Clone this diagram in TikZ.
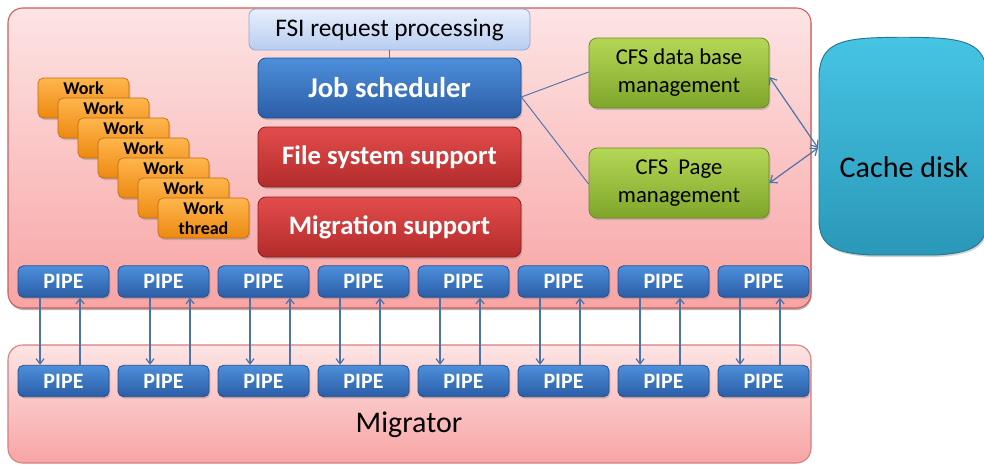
\documentclass[tikz,border=0pt]{standalone}
\usepackage{fontspec}
\setmainfont{Carlito}
\usetikzlibrary{arrows.meta,shadows}
\definecolor{contTop}{HTML}{FDE4E4}
\definecolor{contBot}{HTML}{F8A4A4}
\definecolor{contDraw}{HTML}{CC5E5E}
\definecolor{blueTop}{HTML}{4D8FDB}
\definecolor{blueBot}{HTML}{2B5DA6}
\definecolor{blueDraw}{HTML}{23508C}
\definecolor{redTop}{HTML}{E44C4C}
\definecolor{redBot}{HTML}{B22B2B}
\definecolor{redDraw}{HTML}{8C2020}
\definecolor{greenTop}{HTML}{B6D756}
\definecolor{greenBot}{HTML}{7EA52A}
\definecolor{greenDraw}{HTML}{6A8C22}
\definecolor{oraTop}{HTML}{FFB64C}
\definecolor{oraBot}{HTML}{EC8912}
\definecolor{oraDraw}{HTML}{BF6C0E}
\definecolor{fsiTop}{HTML}{E8EFFC}
\definecolor{fsiBot}{HTML}{B8CDF0}
\definecolor{fsiDraw}{HTML}{8EA8D5}
\definecolor{cacheTop}{HTML}{46C4E4}
\definecolor{cacheBot}{HTML}{2A98B8}
\definecolor{cacheDraw}{HTML}{25788F}
\definecolor{linec}{HTML}{4A74AA}
\tikzset{
  shad/.style={drop shadow={shadow xshift=1pt,shadow yshift=-1.5pt,opacity=0.35}},
  container/.style={rectangle,rounded corners=11pt,top color=contTop,bottom color=contBot,draw=contDraw,line width=0.8pt,inner sep=0pt},
  bluebox/.style={rectangle,rounded corners=6pt,top color=blueTop,bottom color=blueBot,draw=blueDraw,line width=0.6pt,text=white,shad,inner sep=0pt},
  redbox/.style={rectangle,rounded corners=6pt,top color=redTop,bottom color=redBot,draw=redDraw,line width=0.6pt,text=white,shad,inner sep=0pt,font=\fontsize{20}{24}\selectfont\bfseries,minimum width=197.25pt,minimum height=45pt},
  greenbox/.style={rectangle,rounded corners=6pt,top color=greenTop,bottom color=greenBot,draw=greenDraw,line width=0.6pt,text=black,shad,inner sep=0pt,align=center,font=\fontsize{17}{21}\selectfont,minimum width=135pt,minimum height=52.5pt},
  workbox/.style={rectangle,rounded corners=4pt,top color=oraTop,bottom color=oraBot,draw=oraDraw,line width=0.5pt,text=black,shad,inner sep=0pt,align=center,font=\fontsize{13.5}{15}\selectfont\bfseries,minimum width=68.25pt,minimum height=30pt},
  pipebox/.style={bluebox,rounded corners=4pt,font=\fontsize{16.5}{19}\selectfont\bfseries,minimum width=68.25pt,minimum height=23.5pt},
  conn/.style={draw=linec,line width=0.7pt},
  arr/.style={draw=linec,line width=0.9pt,-{Straight Barb[length=4pt,width=6pt]}},
  darr/.style={draw=linec,line width=0.9pt,{Straight Barb[length=4.5pt,width=7pt]}-{Straight Barb[length=4.5pt,width=7pt]}},
}
\begin{document}
\begin{tikzpicture}[x=0.75pt,y=-0.75pt]
\useasboundingbox (0,0) rectangle (984,465);
\fill[white] (0,0) rectangle (984,465);
% containers
\node[container,minimum width=602.25pt,minimum height=225pt,drop shadow={shadow xshift=0.5pt,shadow yshift=-1.5pt,opacity=0.6}] (upper) at (409.5,158) {};
\node[container,minimum width=602.25pt,minimum height=88.5pt,draw=contDraw!80] (lower) at (409.5,404) {};
\node[font=\fontsize{22.5}{26}\selectfont] (migr) at (409,425) {Migrator};
% FSI and central stack
\node[rectangle,rounded corners=5pt,top color=fsiTop,bottom color=fsiBot,draw=fsiDraw,line width=0.6pt,inner sep=0pt,minimum width=210.75pt,minimum height=30.75pt,font=\fontsize{19}{22}\selectfont] (fsi) at (389.5,29.5) {FSI request processing};
\node[bluebox,minimum width=197.25pt,minimum height=45pt,font=\fontsize{21.5}{26}\selectfont\bfseries] (js) at (389.5,88) {Job scheduler};
\node[redbox] (fs) at (389.5,157) {File system support};
\node[redbox] (ms) at (389.5,227) {Migration support};
\draw[conn] (fsi.south) -- (js.north);
% CFS boxes
\node[greenbox] (db) at (679,73) {CFS data base\\management};
\node[greenbox] (pg) at (679,183) {CFS~ Page\\management};
\coordinate (jsr) at ([yshift=-6.75pt]js.east);
\draw[conn] (jsr) -- ([yshift=0.75pt]db.west);
\draw[conn] (jsr) -- ([yshift=-0.75pt]pg.west);
% cache disk
\path[top color=cacheTop,bottom color=cacheBot,draw=cacheDraw,line width=0.7pt,drop shadow={shadow xshift=1pt,shadow yshift=-1.5pt,opacity=0.35}]
  (819,78) .. controls (819,48) and (835,40) .. (870,38) .. controls (890,37) and (916,37) .. (936,38) .. controls (971,40) and (987,48) .. (987,78)
  -- (987,220) .. controls (987,246) and (971,253) .. (936,255) -- (870,255) .. controls (835,253) and (819,246) .. (819,220) -- cycle;
\node[font=\fontsize{22.5}{26}\selectfont] (cache) at (904,167) {Cache disk};
\coordinate (cd) at (818,148);
\draw[darr] ([yshift=-3pt]db.east) -- (cd);
\draw[darr] (cd) -- ([yshift=0pt]pg.east);
% work threads
\foreach \i in {0,...,5} {
  \node[workbox] (w\i) at ({83.5+20*\i},{98+20*\i}) {Work\\\phantom{thread}};
}
\node[workbox] (w6) at (203.5,218) {Work\\thread};
% pipes
\foreach \i in {1,...,8} {
  \node[pipebox] (u\i) at ({63.5+100*(\i-1)},281.5) {PIPE};
  \node[pipebox] (l\i) at ({63.5+100*(\i-1)},381) {PIPE};
}
\foreach \i/\d/\u in {1/-17.6/12.4,2/-10.1/19.9,3/-10.1/19.9,4/-17.6/12.4,5/-17.6/12.4,6/-17.6/12.4,7/-17.6/12.4,8/-17.6/12.4} {
  \draw[arr] ([xshift=\d pt]u\i.south) -- ([xshift=\d pt]l\i.north);
  \draw[arr] ([xshift=\u pt]l\i.north) -- ([xshift=\u pt]u\i.south);
}
\end{tikzpicture}
\end{document}
